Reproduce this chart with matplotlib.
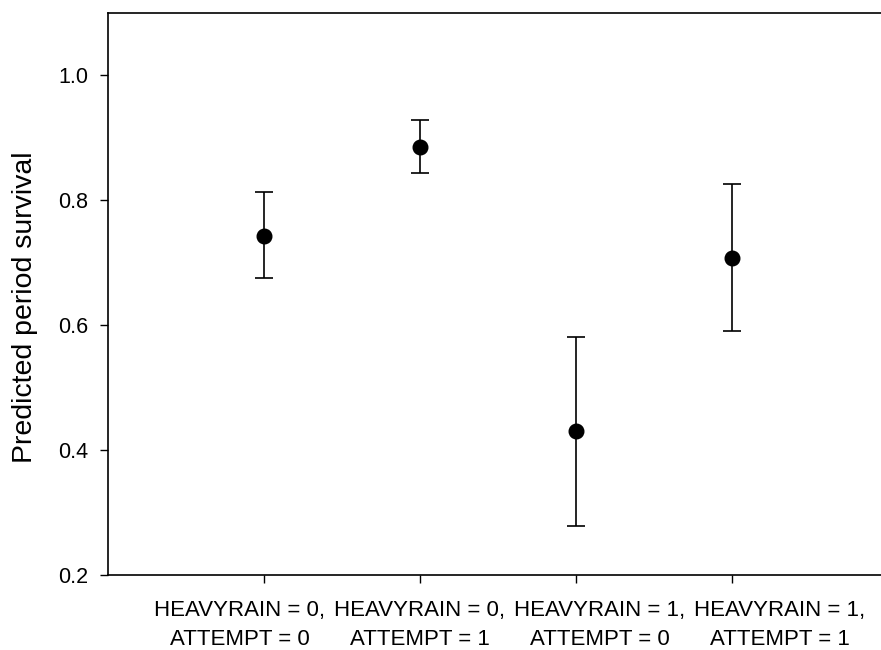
import numpy as np
import matplotlib.pyplot as plt
from matplotlib.transforms import ScaledTranslation

plt.rcParams["font.family"] = ["Liberation Sans", "DejaVu Sans"]

# data
groups = [
    "HEAVYRAIN = 0,\nATTEMPT = 0",
    "HEAVYRAIN = 0,\nATTEMPT = 1",
    "HEAVYRAIN = 1,\nATTEMPT = 0",
    "HEAVYRAIN = 1,\nATTEMPT = 1",
]
survival = [0.743, 0.886, 0.430, 0.708]
upper = [0.814, 0.929, 0.581, 0.826]
lower = [0.675, 0.844, 0.279, 0.590]
y_ticks = [0.2, 0.4, 0.6, 0.8, 1.0]


def main():
    fig = plt.figure(figsize=(8.81, 6.5), dpi=100)
    ax = fig.add_axes([108 / 881, 75 / 650, 780 / 881, 562 / 650])

    x = np.arange(1, len(groups) + 1)
    y = np.array(survival)
    yerr = np.vstack([y - np.array(lower), np.array(upper) - y])

    ax.errorbar(
        x, y, yerr=yerr,
        fmt="o", color="black", markersize=10.5,
        ecolor="black", elinewidth=1.2, capsize=6.5, capthick=1.2,
    )

    ax.set_xlim(0, 5)
    ax.set_ylim(0.2, 1.1)
    ax.set_xticks(x)
    ax.set_xticklabels([])
    ax.set_yticks(y_ticks)
    ax.set_yticklabels([f"{v:.1f}" for v in y_ticks], fontsize=15.5)
    ax.set_ylabel("Predicted period survival", fontsize=20.5)
    ax.yaxis.set_label_coords(-0.09, 0.477)

    # the category labels in the original spread out wider than the ticks
    base = ax.get_xaxis_transform()
    for i, (xi, text) in enumerate(zip(x, groups)):
        shift = ScaledTranslation((i - 1) * 0.24, -0.50, fig.dpi_scale_trans)
        ax.text(xi, 0, text, transform=base + shift, ha="center", va="center",
                fontsize=16, linespacing=1.45, multialignment="center")

    ax.spines["right"].set_visible(False)
    for side in ["left", "top", "bottom"]:
        ax.spines[side].set_linewidth(1.2)
    ax.tick_params(direction="out", length=6, width=1.0, pad=8)

    fig.savefig("out.png", dpi=100)
    plt.close(fig)


if __name__ == "__main__":
    main()
